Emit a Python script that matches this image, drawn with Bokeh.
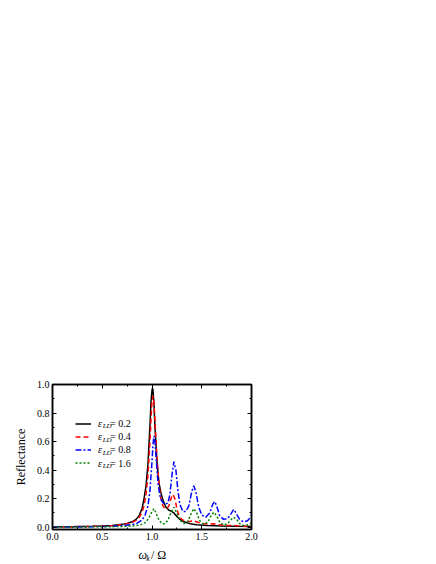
from bokeh.plotting import figure
from bokeh.layouts import column
from bokeh.models import (Label, Legend, LegendItem, LinearAxis, FixedTicker,
                          PrintfTickFormatter, Range1d)
from bokeh.embed import file_html
from bokeh.resources import INLINE

# ---------------- data ----------------
x_02 = [0.0, 0.2, 0.4, 0.5, 0.6, 0.7, 0.75, 0.8, 0.84, 0.87, 0.9, 0.92, 0.94, 0.96,
        0.98, 0.99, 1.0, 1.005, 1.01, 1.02, 1.03, 1.05, 1.07, 1.09, 1.11, 1.14, 1.17,
        1.2, 1.22, 1.25, 1.28, 1.32, 1.38, 1.45, 1.55, 1.7, 1.85, 2.0]
y_02 = [0.003, 0.004, 0.006, 0.008, 0.012, 0.02, 0.027, 0.038, 0.055, 0.08, 0.13, 0.2,
        0.29, 0.45, 0.72, 0.88, 0.96, 0.975, 0.96, 0.86, 0.7, 0.46, 0.31, 0.24, 0.19,
        0.14, 0.12, 0.11, 0.1, 0.075, 0.055, 0.038, 0.025, 0.018, 0.012, 0.008, 0.006,
        0.005]

x_04 = [0.0, 0.2, 0.4, 0.5, 0.6, 0.7, 0.75, 0.8, 0.84, 0.87, 0.9, 0.92, 0.94, 0.96,
        0.98, 0.99, 1.0, 1.01, 1.02, 1.03, 1.05, 1.07, 1.09, 1.11, 1.13, 1.15, 1.17,
        1.19, 1.21, 1.23, 1.25, 1.27, 1.3, 1.34, 1.38, 1.42, 1.46, 1.52, 1.58, 1.62,
        1.67, 1.75, 1.82, 1.9, 2.0]
y_04 = [0.003, 0.004, 0.006, 0.008, 0.011, 0.018, 0.024, 0.034, 0.048, 0.068, 0.105,
        0.15, 0.23, 0.37, 0.6, 0.76, 0.88, 0.92, 0.87, 0.74, 0.48, 0.3, 0.2, 0.15,
        0.13, 0.13, 0.15, 0.2, 0.23, 0.2, 0.13, 0.08, 0.055, 0.04, 0.04, 0.045, 0.035,
        0.025, 0.022, 0.025, 0.018, 0.012, 0.012, 0.008, 0.006]

x_08 = [0.0, 0.2, 0.4, 0.5, 0.6, 0.7, 0.8, 0.85, 0.9, 0.93, 0.96, 0.98, 1.0, 1.01,
        1.02, 1.03, 1.045, 1.06, 1.08, 1.1, 1.13, 1.16, 1.18, 1.2, 1.22, 1.24, 1.26,
        1.28, 1.31, 1.34, 1.37, 1.4, 1.42, 1.44, 1.47, 1.5, 1.54, 1.58, 1.61, 1.63,
        1.65, 1.68, 1.72, 1.76, 1.8, 1.82, 1.84, 1.88, 1.92, 1.96, 2.0]
y_08 = [0.002, 0.003, 0.004, 0.005, 0.007, 0.01, 0.018, 0.028, 0.05, 0.085, 0.15,
        0.26, 0.46, 0.58, 0.64, 0.6, 0.45, 0.31, 0.22, 0.18, 0.16, 0.17, 0.23, 0.36,
        0.46, 0.4, 0.26, 0.16, 0.11, 0.11, 0.15, 0.25, 0.29, 0.25, 0.14, 0.085, 0.07,
        0.1, 0.16, 0.18, 0.15, 0.08, 0.055, 0.06, 0.1, 0.125, 0.105, 0.055, 0.038,
        0.045, 0.08]

x_16 = [0.0, 0.3, 0.5, 0.7, 0.8, 0.88, 0.94, 0.98, 1.0, 1.02, 1.04, 1.07, 1.1, 1.13,
        1.16, 1.19, 1.22, 1.25, 1.28, 1.32, 1.36, 1.39, 1.42, 1.45, 1.48, 1.52, 1.56,
        1.59, 1.62, 1.65, 1.68, 1.72, 1.76, 1.79, 1.82, 1.85, 1.88, 1.92, 1.96, 2.0]
y_16 = [0.002, 0.002, 0.003, 0.005, 0.008, 0.015, 0.035, 0.08, 0.11, 0.13, 0.1, 0.05,
        0.025, 0.025, 0.05, 0.1, 0.14, 0.1, 0.05, 0.025, 0.04, 0.09, 0.13, 0.1, 0.045,
        0.02, 0.035, 0.075, 0.105, 0.08, 0.035, 0.015, 0.025, 0.05, 0.07, 0.055, 0.025,
        0.012, 0.015, 0.03]

series_values = ["0.2", "0.4", "0.8", "1.6"]
x_ticks = [0.0, 0.5, 1.0, 1.5, 2.0]
x_minor = [0.25, 0.75, 1.25, 1.75]
y_ticks = [0.0, 0.2, 0.4, 0.6, 0.8, 1.0]
y_minor = [0.1, 0.3, 0.5, 0.7, 0.9]

FONT = "Liberation Serif"

p = figure(width=420, height=543, output_backend="svg", toolbar_location=None,
           x_range=Range1d(0, 2), y_range=Range1d(-0.016, 1.0),
           min_border_left=52, min_border_right=169, min_border_top=384,
           min_border_bottom=14)
p.grid.visible = False
p.outline_line_color = "black"
p.outline_line_width = 1.5
p.background_fill_color = "white"
p.border_fill_color = "white"

top_ax = LinearAxis()
right_ax = LinearAxis()
p.add_layout(top_ax, "above")
p.add_layout(right_ax, "right")

def style(ax, ticks, minor, show_labels):
    ax.ticker = FixedTicker(ticks=ticks, minor_ticks=minor)
    ax.formatter = PrintfTickFormatter(format="%.1f")
    ax.axis_line_color = "black"
    ax.axis_line_width = 1.5
    ax.major_tick_in = 4
    ax.major_tick_out = 0
    ax.minor_tick_in = 2
    ax.minor_tick_out = 0
    ax.major_tick_line_color = "black"
    ax.minor_tick_line_color = "black"
    ax.major_tick_line_width = 1
    ax.minor_tick_line_width = 1
    ax.major_label_text_font = FONT
    ax.major_label_text_font_size = "10px"
    ax.major_label_text_color = "black"
    ax.major_label_standoff = 3
    if not show_labels:
        ax.major_label_text_alpha = 0
        ax.major_label_text_font_size = "1px"
        ax.major_label_standoff = 0

for ax in p.xaxis:
    style(ax, x_ticks, x_minor, ax is not top_ax)
for ax in p.yaxis:
    style(ax, y_ticks, y_minor, ax is not right_ax)

yax = p.yaxis[0]
yax.axis_label = "Reflectance"
yax.axis_label_text_font = FONT
yax.axis_label_text_font_style = "normal"
yax.axis_label_text_font_size = "12px"
yax.axis_label_text_color = "black"
yax.axis_label_standoff = 6

r1 = p.line(x_02, y_02, line_color="black", line_width=1.5)
r2 = p.line(x_04, y_04, line_color="red", line_width=1.5, line_dash="5 3")
r3 = p.line(x_08, y_08, line_color="blue", line_width=1.5, line_dash="6 2 2 2")
r4 = p.line(x_16, y_16, line_color="green", line_width=1.5, line_dash="2 2")

legend = Legend(items=[LegendItem(label=" ", renderers=[r]) for r in (r1, r2, r3, r4)],
                location=(22.6, 59.7), padding=0, margin=0, spacing=0,
                glyph_width=16, glyph_height=13, label_height=13, label_width=1,
                label_standoff=0, border_line_alpha=0, background_fill_alpha=0,
                label_text_font_size="6px")
p.add_layout(legend, "center")

row_y = [106.3, 93.0, 79.7, 66.3]
for val, yc in zip(series_values, row_y):
    p.add_layout(Label(x=45.6, y=yc, x_units="screen", y_units="screen", text="ε",
                       text_font=FONT, text_font_style="italic", text_font_size="10px",
                       text_baseline="middle", text_color="black"))
    p.add_layout(Label(x=50.2, y=yc - 3, x_units="screen", y_units="screen", text="LD",
                       text_font=FONT, text_font_style="italic", text_font_size="7px",
                       text_baseline="middle", text_color="black"))
    p.add_layout(Label(x=57.5, y=yc, x_units="screen", y_units="screen", text="= " + val,
                       text_font=FONT, text_font_size="10px",
                       text_baseline="middle", text_color="black"))

# ---- strip below the plot holding the x-axis title: omega_k / Omega ----
q = figure(width=420, height=19, output_backend="svg", toolbar_location=None,
           x_axis_type=None, y_axis_type=None, min_border=0,
           x_range=Range1d(0, 420), y_range=Range1d(0, 19))
q.grid.visible = False
q.outline_line_color = None
q.background_fill_color = "white"
q.border_fill_color = "white"

q.add_layout(Label(x=86.0, y=8, x_units="screen", y_units="screen", text="ω",
                   text_font=FONT, text_font_style="italic", text_font_size="12px",
                   text_baseline="middle", text_color="black"))
q.add_layout(Label(x=93.8, y=4.5, x_units="screen", y_units="screen", text="k",
                   text_font=FONT, text_font_style="italic", text_font_size="8px",
                   text_baseline="middle", text_color="black"))
q.add_layout(Label(x=98.5, y=8, x_units="screen", y_units="screen", text="/ Ω",
                   text_font=FONT, text_font_size="12px",
                   text_baseline="middle", text_color="black"))

layout = column(p, q, spacing=0)
open("out.html", "w").write(file_html(layout, INLINE))
